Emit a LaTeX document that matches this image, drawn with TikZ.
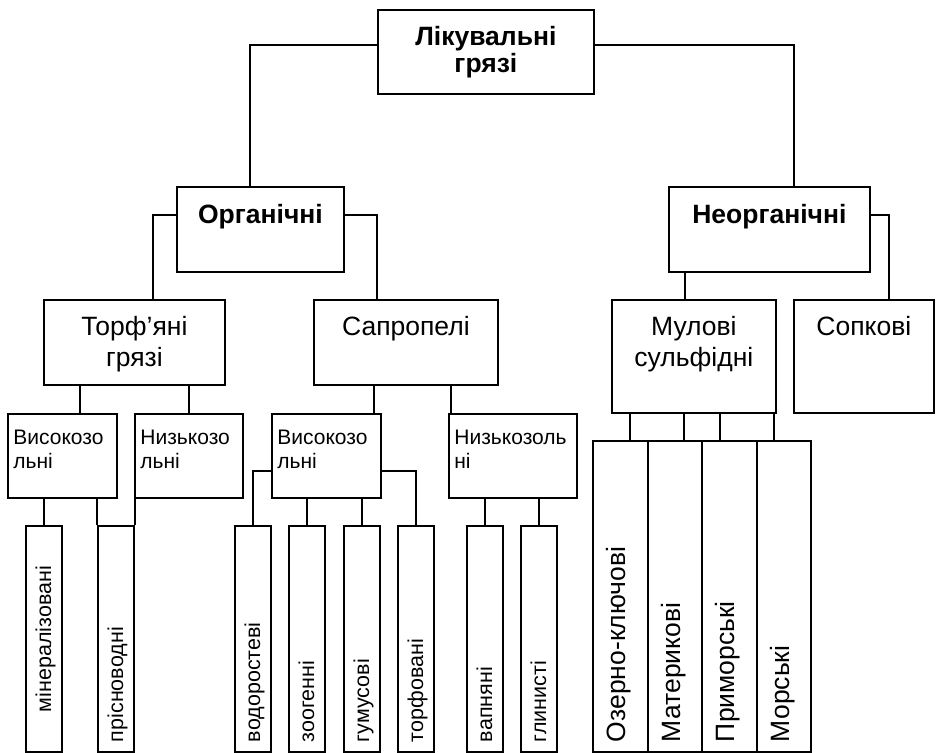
\documentclass[tikz,border=0pt]{standalone}
\usepackage{fontspec}
\setmainfont{Liberation Sans}
\usepackage{tikz}
\tikzset{MDbox/.style={draw,line width=1.8pt,inner sep=0pt,anchor=north west},
	MDhead/.style={MDbox,align=center,text height=36.7pt,text depth=48.3pt,font=\fontsize{26.5}{27.4}\selectfont\bfseries},
	MDkind/.style={MDbox,align=center,text height=36pt,font=\fontsize{26.5}{31}\selectfont},
	MDsub/.style={MDbox,align=left,inner xsep=5.5pt,text width=98pt,text height=30.3pt,text depth=53.7pt,font=\fontsize{21}{24.4}\selectfont},
	MDleaf/.style={draw,line width=1.8pt,rotate=90,inner ysep=0pt,inner xsep=10pt,text width=206pt,text height=25pt,text depth=11pt,align=left,font=\fontsize{21.5}{25}\selectfont},
	MDleafwide/.style={MDleaf,text width=291pt,text height=32.25pt,text depth=22.25pt,font=\fontsize{26.5}{31}\selectfont},
	MDline/.style={line width=1.5pt}}

\begin{document}
\begin{tikzpicture}[x=1pt,y=-1pt]
	\useasboundingbox (0,0) rectangle (938,753);
	\node[MDhead,text width=216pt,text height=35.3pt,text depth=48.7pt] (T) at (377,9) {Лікувальні\\грязі};
	\node[MDhead,text width=167pt] (Org) at (176,186) {Органічні};
	\node[MDhead,text width=201pt] (Neorg) at (668,186) {Неорганічні};
	%
	\node[MDkind,text width=181pt,text depth=49pt] (Torf) at (43,299) {Торф’яні\\грязі};
	\node[MDkind,text width=184pt,text depth=49pt] (Sapr) at (313,299) {Сапропелі};
	\node[MDkind,text width=164pt,text depth=77pt] (Mul) at (611,299) {Мулові\\сульфідні};
	\node[MDkind,text width=140pt,text depth=77pt] (Sopk) at (793,299) {Сопкові};
	%
	\node[MDsub] (TV) at (7,413) {Високозо\\льні};
	\node[MDsub,text width=97pt] (TN) at (134,413) {Низькозо\\льні};
	\node[MDsub] (SV) at (271,413) {Високозо\\льні};
	\node[MDsub,text width=117pt] (SN) at (448,413) {Низькозоль\\ні};
	% leaves are turned: .east is the top, .west the bottom
	\node[MDleaf,align=center] (Min) at (44,639) {мінералізовані};
	\node[MDleaf] (Pris) at (116,639) {прісноводні};
	\node[MDleaf] (Vod) at (253,639) {водоростеві};
	\node[MDleaf] (Zoo) at (307,639) {зоогенні};
	\node[MDleaf] (Gum) at (362,639) {гумусові};
	\node[MDleaf] (Torfov) at (416,639) {торфовані};
	\node[MDleaf] (Vapn) at (485,639) {вапняні};
	\node[MDleaf] (Glyn) at (539,639) {глинисті};
	\node[MDleafwide] (Ozer) at (620.5,596.5) {Озерно-ключові};
	\node[MDleafwide] (Mater) at (675,596.5) {Материкові};
	\node[MDleafwide] (Prym) at (729.5,596.5) {Приморські};
	\node[MDleafwide] (Mors) at (784,596.5) {Морські};
	%
	\draw[MDline]
	(T.base west) -| ([xshift=-10.5pt]Org.north)
	(T.base east) -| ([xshift=24.5pt]Neorg.north)
	([yshift=8.4pt]Org.base west) -| ([xshift=18.5pt]Torf.north)
	([yshift=8.4pt]Org.base east) -| ([xshift=-29pt]Sapr.north)
	([yshift=8.4pt]Neorg.base east) -| ([xshift=25pt]Sopk.north)
	([xshift=-9pt]Mul.north) -- ([xshift=-9pt]Mul.north |- Neorg.south)
	([xshift=17.5pt]TV.north) -- ([xshift=17.5pt]TV.north |- Torf.south)
	(TN.north) -- (TN.north |- Torf.south)
	([xshift=47.5pt]SV.north) -- ([xshift=47.5pt]SV.north |- Sapr.south)
	([xshift=-62pt]SN.north) -- ([xshift=-62pt]SN.north |- Sapr.south)
	(Min.east) -- (Min.east |- TV.south)
	(Pris.north east) -- (Pris.north east |- TV.south)
	(Pris.south east) -- (Pris.south east |- TN.south)
	([yshift=-15pt]SV.west) -| (Vod.east)
	(Zoo.east) -- (Zoo.east |- SV.south)
	(Gum.east) -- (Gum.east |- SV.south)
	([yshift=-15pt]SV.east) -| (Torfov.east)
	(Vapn.east) -- (Vapn.east |- SN.south)
	(Glyn.east) -- (Glyn.east |- SN.south)
	([xshift=9.5pt]Ozer.east) -- ([xshift=9.5pt]Ozer.east |- Mul.south)
	([xshift=9pt]Mater.east) -- ([xshift=9pt]Mater.east |- Mul.south)
	([xshift=-9.5pt]Prym.east) -- ([xshift=-9.5pt]Prym.east |- Mul.south)
	([xshift=-10pt]Mors.east) -- ([xshift=-10pt]Mors.east |- Mul.south);
\end{tikzpicture}
\end{document}
